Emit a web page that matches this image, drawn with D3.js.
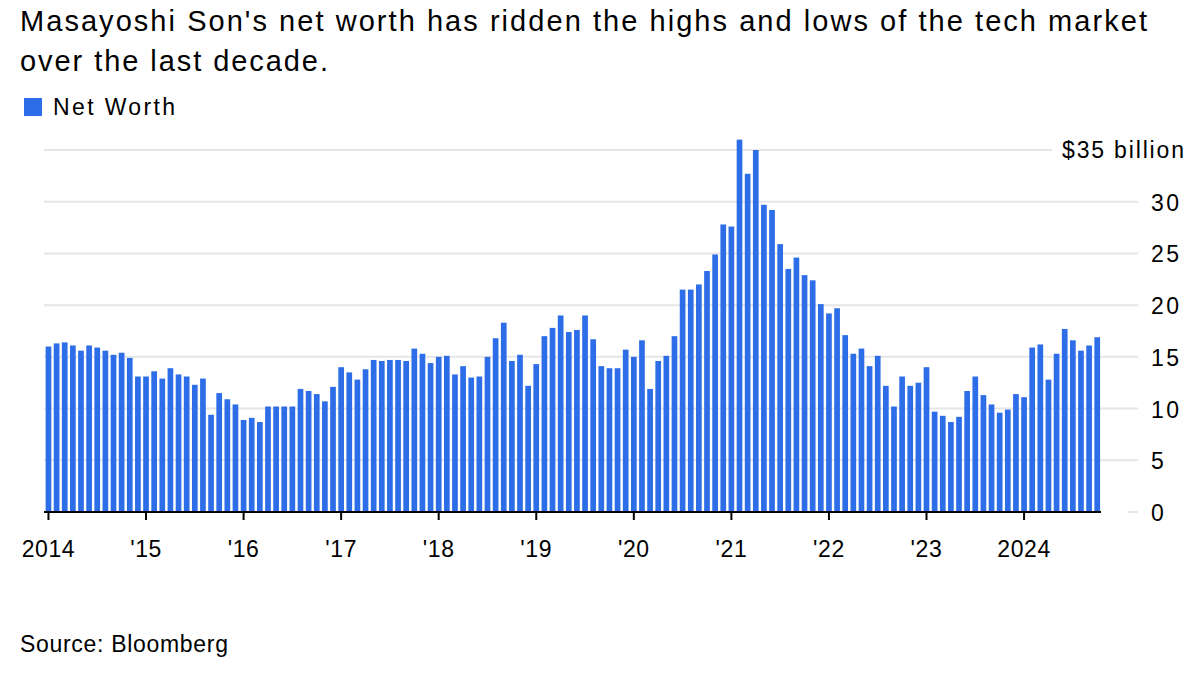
<!DOCTYPE html>
<html><head><meta charset="utf-8">
<script src="https://cdn.jsdelivr.net/npm/d3@7/dist/d3.min.js"></script>
<style>
html,body{margin:0;padding:0;background:#fff;}
svg text{font-family:"Liberation Sans",Arial,Helvetica,sans-serif;fill:#000;}
</style></head>
<body><svg id="c" width="1200" height="676"></svg>
<script>
const title = ["Masayoshi Son's net worth has ridden the highs and lows of the tech market", "over the last decade."];
const seriesName = "Net Worth";
const source = "Source: Bloomberg";
const startYear = 2014;
// Monthly net worth, $ billion, Jan 2014 – Oct 2024
const netWorth = [
  16.0,16.3,16.4,16.1,15.6,16.1,15.9,15.6,15.2,15.4,14.9,13.1,
  13.1,13.6,12.9,13.9,13.3,13.1,12.3,12.9,9.4,11.5,10.9,10.4,
  8.9,9.1,8.7,10.2,10.2,10.2,10.2,11.9,11.7,11.4,10.7,12.1,
  14.0,13.5,12.8,13.8,14.7,14.6,14.7,14.7,14.6,15.8,15.3,14.4,
  15.0,15.1,13.3,14.1,13.0,13.1,15.0,16.8,18.3,14.6,15.2,12.2,
  14.3,17.0,17.8,19.0,17.4,17.6,19.0,16.7,14.1,13.9,13.9,15.7,
  15.0,16.6,11.9,14.6,15.1,17.0,21.5,21.5,22.0,23.3,24.9,27.8,
  27.6,36.0,32.7,35.0,29.7,29.2,25.9,23.5,24.6,22.9,22.4,20.1,
  19.2,19.7,17.1,15.3,15.8,14.1,15.1,12.2,10.2,13.1,12.2,12.5,
  14.0,9.7,9.3,8.7,9.2,11.7,13.1,11.3,10.4,9.6,9.9,11.4,
  11.1,15.9,16.2,12.8,15.3,17.7,16.6,15.6,16.1,16.9
];
const yTicks = [0,5,10,15,20,25,30,35];
const xTickLabels = ["2014","'15","'16","'17","'18","'19","'20","'21","'22","'23","2024"];

const svg = d3.select("#c");
const months = netWorth.map((v,i)=>i);
const x = d3.scaleBand().domain(months).range([44.4, 1101.3]).paddingInner(0.3).paddingOuter(0.15);
const y = d3.scaleLinear().domain([0,35]).range([512,150]);
const blue = "#2d6de8";

// title
const titleLen = [1127, 308];
svg.append("g").selectAll("text").data(title).join("text")
  .attr("x",20).attr("y",(d,i)=>31+i*40)
  .attr("textLength",(d,i)=>titleLen[i]).attr("lengthAdjust","spacing")
  .style("font-size","29px").text(d=>d);

// legend
svg.append("rect").attr("x",24).attr("y",98).attr("width",18).attr("height",18).attr("fill",blue);
svg.append("text").attr("x",53).attr("y",115).attr("textLength",122).attr("lengthAdjust","spacing")
  .style("font-size","23px").text(seriesName);

// gridlines
svg.append("g").selectAll("line").data(yTicks.filter(t=>t>0)).join("line")
  .attr("x1",44).attr("x2",d=>d===35?1052:1138)
  .attr("y1",d=>y(d)).attr("y2",d=>y(d))
  .attr("stroke","#e6e6e6").attr("stroke-width",2);
svg.append("line").attr("x1",1128).attr("x2",1138).attr("y1",y(0)).attr("y2",y(0))
  .attr("stroke","#e6e6e6").attr("stroke-width",2);

// y labels
const yl = svg.append("g").selectAll("text").data(yTicks).join("text")
  .attr("x",d=>d===35?1062:1151).attr("y",d=>y(d)+(d===35?8:9))
  .style("font-size","23px")
  .style("letter-spacing",d=>d===35?null:"2.5px")
  .text(d=>d===35?"$35 billion":d);
yl.filter(d=>d===35).attr("textLength",122).attr("lengthAdjust","spacing");

// bars
svg.append("g").selectAll("rect").data(netWorth).join("rect")
  .attr("x",(d,i)=>x(i)).attr("width",x.bandwidth())
  .attr("y",d=>y(d)).attr("height",d=>y(0)-y(d))
  .attr("fill",blue);

// x axis
const tickIdx = xTickLabels.map((l,i)=>i*12);
const xAxis = d3.axisBottom(x).tickValues(tickIdx).tickSize(8).tickSizeOuter(0)
  .tickFormat((d,i)=>xTickLabels[i]);
const gx = svg.append("g").attr("transform","translate(0,512)").call(xAxis);
gx.select(".domain").attr("stroke","#000").attr("stroke-width",2).attr("d","M44,0H1101");
gx.selectAll(".tick line").attr("stroke","#000").attr("stroke-width",2);
gx.selectAll(".tick text").attr("y",45).attr("dy",0)
  .style("font-size","23px").style("letter-spacing","0.6px")
  .style("font-family","'Liberation Sans',Arial,sans-serif").attr("fill","#000");

// source
svg.append("text").attr("x",20).attr("y",652).attr("textLength",208).attr("lengthAdjust","spacing")
  .style("font-size","23px").text(source);
</script></body></html>
